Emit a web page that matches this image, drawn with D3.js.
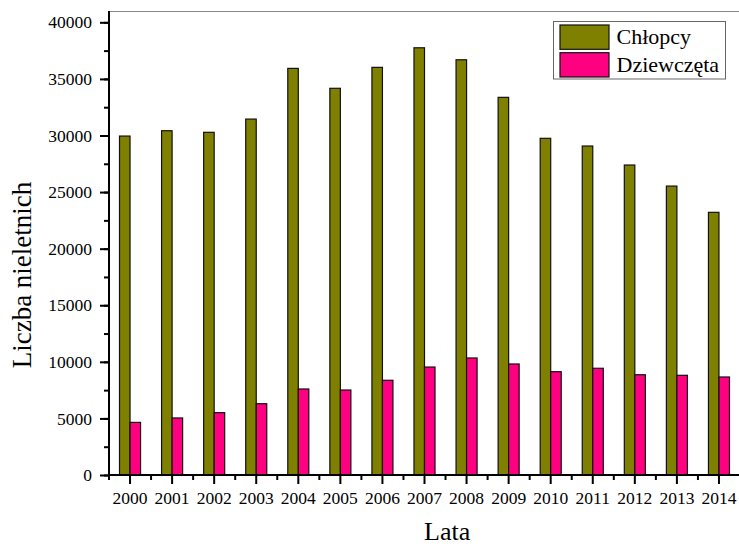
<!DOCTYPE html>
<html>
<head>
<meta charset="utf-8">
<script src="https://cdn.jsdelivr.net/npm/d3@7"></script>
<style>
  html, body { margin: 0; padding: 0; background: #fff; }
  svg { display: block; }
  svg text { font-family: "Liberation Serif", "Times New Roman", serif !important; fill: #000; }
</style>
</head>
<body>
<svg id="chart" width="739" height="547"></svg>
<script>
const years = ["2000","2001","2002","2003","2004","2005","2006","2007","2008","2009","2010","2011","2012","2013","2014"];
const chlopcy = [29950, 30420, 30280, 31450, 35930, 34170, 36020, 37750, 36690, 33370, 29750, 29070, 27390, 25530, 23210];
const dziewczeta = [4650, 5040, 5510, 6300, 7600, 7510, 8370, 9540, 10340, 9810, 9130, 9430, 8860, 8810, 8660];
const seriesNames = ["Chłopcy", "Dziewczęta"];
const seriesColors = ["#808000", "#ff0080"];
const yMajorTicks = [0, 5000, 10000, 15000, 20000, 25000, 30000, 35000, 40000];
const yMinorTicks = d3.range(0, 40001, 2500);

const svg = d3.select("#chart");
const pLeft = 109, pRight = 740, pTop = 11, pBottom = 475;

const x = d3.scaleBand().domain(years).range([pLeft, pRight]).padding(0);
const y = d3.scaleLinear().domain([0, 41000]).range([pBottom, pTop]);
const bw = x.bandwidth() / 4;

// top frame line
svg.append("line").attr("x1", pLeft).attr("x2", 739).attr("y1", pTop + 0.5).attr("y2", pTop + 0.5)
  .attr("stroke", "#888").attr("stroke-width", 1);

// bars
const data = years.map((yr, i) => ({ yr, v: [chlopcy[i], dziewczeta[i]] }));
const g = svg.append("g");
data.forEach(d => {
  d.v.forEach((val, s) => {
    const cx = x(d.yr) + x.bandwidth() / 2;
    g.append("rect")
      .attr("x", s === 0 ? cx - bw : cx)
      .attr("y", y(val))
      .attr("width", bw)
      .attr("height", y(0) - y(val))
      .attr("fill", seriesColors[s])
      .attr("stroke", "#111")
      .attr("stroke-width", 1.2);
  });
});

// y axis
const yAxisG = svg.append("g").attr("transform", `translate(${pLeft},0)`);
yAxisG.call(d3.axisLeft(y).tickValues(yMinorTicks).tickSize(5).tickFormat(""))
  .call(a => a.select(".domain").remove())
  .call(a => a.selectAll("line").attr("stroke", "#000").attr("stroke-width", 2));
const yAxisMaj = svg.append("g").attr("transform", `translate(${pLeft},0)`);
yAxisMaj.call(d3.axisLeft(y).tickValues(yMajorTicks).tickSize(9).tickPadding(8).tickFormat(d3.format("d")))
  .call(a => a.select(".domain").remove())
  .call(a => a.selectAll("line").attr("stroke", "#000").attr("stroke-width", 2))
  .call(a => a.selectAll("text").attr("font-size", "17.5px"));
svg.append("line").attr("x1", pLeft).attr("x2", pLeft).attr("y1", pTop).attr("y2", pBottom + 1)
  .attr("stroke", "#000").attr("stroke-width", 2);

// x axis
const xAxisG = svg.append("g").attr("transform", `translate(0,${pBottom})`);
xAxisG.call(d3.axisBottom(x).tickSize(9).tickPadding(8))
  .call(a => a.select(".domain").remove())
  .call(a => a.selectAll("line").attr("stroke", "#000").attr("stroke-width", 2))
  .call(a => a.selectAll("text").attr("font-size", "17.5px"));
// minor ticks at band boundaries
const bounds = years.map(yr => x(yr)).concat([x(years[years.length - 1]) + x.step()]);
svg.append("g").selectAll("line").data(bounds).join("line")
  .attr("x1", d => d).attr("x2", d => d).attr("y1", pBottom).attr("y2", pBottom + 5)
  .attr("stroke", "#000").attr("stroke-width", 2);
svg.append("line").attr("x1", pLeft - 1).attr("x2", 739).attr("y1", pBottom).attr("y2", pBottom)
  .attr("stroke", "#000").attr("stroke-width", 2);

// axis titles
svg.append("text").attr("x", 424).attr("y", 540).attr("font-size", "26px")
  .text("Lata");
svg.append("text").attr("transform", "translate(31,275) rotate(-90)").attr("text-anchor", "middle")
  .attr("font-size", "27px").text("Liczba nieletnich");

// legend
const lg = svg.append("g");
lg.append("rect").attr("x", 553.5).attr("y", 21.5).attr("width", 172).attr("height", 57.5)
  .attr("fill", "#fff").attr("stroke", "#666").attr("stroke-width", 1);
seriesNames.forEach((name, i) => {
  lg.append("rect").attr("x", 560).attr("y", 25 + i * 27.7).attr("width", 49).attr("height", 24.3)
    .attr("fill", seriesColors[i]).attr("stroke", "#111").attr("stroke-width", 1.2);
  lg.append("text").attr("x", 616.5).attr("y", 44 + i * 27.7).attr("font-size", "22px")
    .text(name);
});
</script>
</body>
</html>
